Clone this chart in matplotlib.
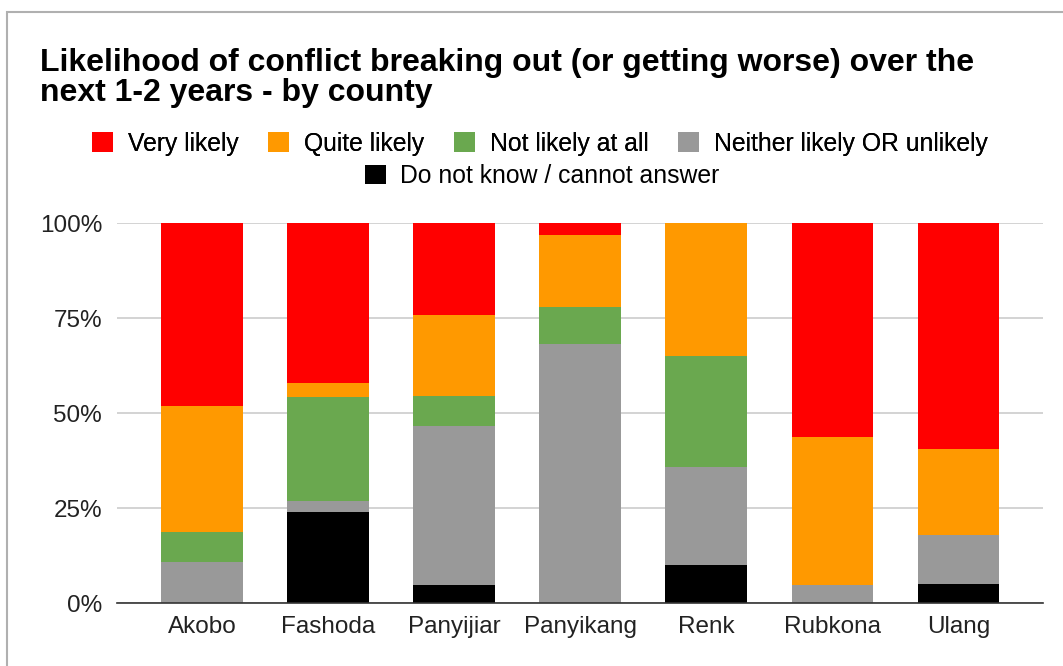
import matplotlib.pyplot as plt
import numpy as np
from matplotlib.patches import Rectangle

plt.rcParams['font.family'] = ['Liberation Sans', 'DejaVu Sans']

counties = ['Akobo', 'Fashoda', 'Panyijiar', 'Panyikang', 'Renk', 'Rubkona', 'Ulang']

# shares in percent, bottom of the stack first
dont_know = [0, 24.1, 4.9, 0, 10.1, 0, 5.0]
neither = [10.9, 2.8, 41.7, 68.2, 25.8, 4.8, 13.0]
not_likely = [8.0, 27.3, 7.9, 9.8, 29.1, 0, 0]
quite_likely = [32.9, 3.7, 21.3, 18.8, 35.0, 39.0, 22.5]
very_likely = [48.2, 42.1, 24.2, 3.2, 0, 56.2, 59.5]

series = [
    ('Do not know / cannot answer', dont_know, '#000000'),
    ('Neither likely OR unlikely', neither, '#999999'),
    ('Not likely at all', not_likely, '#6aa84f'),
    ('Quite likely', quite_likely, '#ff9900'),
    ('Very likely', very_likely, '#ff0000'),
]

fig = plt.figure(figsize=(10.63, 6.66), dpi=100)
ax = fig.add_axes([0.1104, 0.0941, 0.8708, 0.5706])

x = np.arange(len(counties))
bottom = np.zeros(len(counties))
bars = {}
for name, vals, color in series:
    vals = np.array(vals, dtype=float)
    bars[name] = ax.bar(x, vals, bottom=bottom, width=0.648, color=color,
                        label=name, zorder=3)
    bottom += vals

ax.set_xlim(-0.67, 6.67)
ax.set_ylim(0, 100)
ax.set_yticks([0, 25, 50, 75, 100])
ax.set_yticklabels(['0%', '25%', '50%', '75%', '100%'])
ax.set_xticks(x)
ax.set_xticklabels(counties)
ax.tick_params(axis='both', length=0, labelsize=17.5, colors='#222222')
ax.tick_params(axis='y', pad=11)
ax.tick_params(axis='x', pad=9)
ax.grid(axis='y', color='#cccccc', linewidth=1.2, zorder=0)
ax.set_axisbelow(True)
for s in ['top', 'right', 'left']:
    ax.spines[s].set_visible(False)
ax.spines['bottom'].set_color('#333333')
ax.spines['bottom'].set_linewidth(1.2)
ax.spines['bottom'].set_zorder(4)

# two-line bold title
fig.text(0.0376, 1 - 71 / 666, 'Likelihood of conflict breaking out (or getting worse) over the',
         fontsize=23, fontweight='bold', ha='left', va='baseline')
fig.text(0.0376, 1 - 101 / 666, 'next 1-2 years - by county',
         fontsize=23, fontweight='bold', ha='left', va='baseline')

# legend in two centred rows
leg_kw = dict(loc='center', frameon=False, fontsize=17.8, handlelength=0.85,
              handleheight=0.85, handletextpad=0.6, columnspacing=1.2,
              borderpad=0, borderaxespad=0)
order1 = ['Very likely', 'Quite likely', 'Not likely at all', 'Neither likely OR unlikely']
leg1 = fig.legend([bars[n] for n in order1], order1,
                  bbox_to_anchor=(0.508, 1 - 143.8 / 666), ncol=4, **leg_kw)
fig.legend([bars['Do not know / cannot answer']], ['Do not know / cannot answer'],
           bbox_to_anchor=(0.510, 1 - 176 / 666), **leg_kw)
fig.add_artist(leg1)

# outer frame
fig.add_artist(Rectangle((7 / 1063, -0.05), 1.2, 0.05 + (666 - 12) / 666,
                         transform=fig.transFigure, fill=False,
                         edgecolor='#b0b0b0', linewidth=1.5))

fig.savefig('out.png', dpi=100)
